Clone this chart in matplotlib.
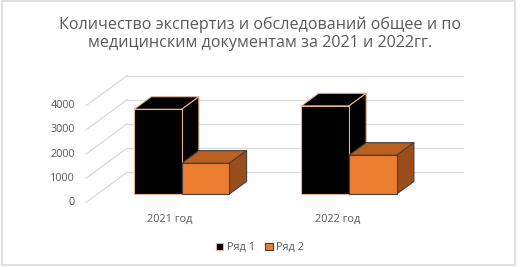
import matplotlib
matplotlib.use('Agg')
from matplotlib import pyplot as plt, patches

title = 'Количество экспертиз и обследований общее и по\nмедицинским документам за 2021 и 2022гг.'
categories = ['2021 год', '2022 год']
series_names = ['Ряд 1', 'Ряд 2']
row1 = [3500, 3640]
row2 = [1270, 1600]
yticks = [0, 1000, 2000, 3000, 4000]

front_colors = ['#000000', '#ED7D31']
top_colors = ['#000000', '#B9601F']
side_colors = ['#000000', '#9A4E1B']
edge_colors = ['#E6B496', '#404040']
grid_color = '#D9D9D9'
text_color = '#595959'

# oblique projection: one depth unit shifts x by ddx (category units) and y by ddy (value units)
ddx = 0.245
ddy = 1240
bar_depth = 0.42
floor_front = -0.28
floor_back = 0.72
bar_w = 0.285
x_left, x_right = -0.503, 1.503

fig = plt.figure(figsize=(5.2, 2.67), dpi=100)
ax = fig.add_axes([0, 0, 1, 1])
ax.set_xlim(-1.086, 2.022)
ax.set_ylim(-3017, 8017)
ax.axis('off')

# chart border
fig.patches.append(patches.Rectangle((0.003, 0.006), 0.988, 0.99, transform=fig.transFigure,
                                     facecolor='none', edgecolor='#D9D9D9', linewidth=1.2))


def shift(x, y, d):
    return x + d * ddx, y + d * ddy


# gridlines: back wall and left side wall
for t in yticks:
    fx, fy = shift(x_left, t, floor_front)
    bx, by = shift(x_left, t, floor_back)
    rx, ry = shift(x_right, t, floor_back)
    ax.plot([fx, bx], [fy, by], color=grid_color, linewidth=0.9, zorder=1)
    ax.plot([bx, rx], [by, ry], color=grid_color, linewidth=0.9, zorder=1)
    ax.text(fx - 0.066, fy, str(t), ha='right', va='center', fontsize=7.8,
            color=text_color, family='Open Sans')

for i, cat in enumerate(categories):
    cx, cy = shift(i, 0, floor_front)
    ax.text(cx, cy - 700, cat, ha='center', va='center', fontsize=7.8,
            color=text_color, family='Open Sans')

# bars, drawn back to front, left series first so the right one overlaps its side
series = [row1, row2]
for i in range(len(categories)):
    for s, vals in enumerate(series):
        v = vals[i]
        x0 = i - bar_w + s * bar_w
        x1 = x0 + bar_w
        ax.bar([x0], [v], width=bar_w, align='edge', color=front_colors[s],
               edgecolor=edge_colors[s], linewidth=0.8, zorder=3 + s)
        tl = (x0, v)
        tr = (x1, v)
        top = [tl, tr, shift(x1, v, bar_depth), shift(x0, v, bar_depth)]
        side = [(x1, 0), tr, shift(x1, v, bar_depth), shift(x1, 0, bar_depth)]
        ax.add_patch(patches.Polygon(top, closed=True, facecolor=top_colors[s],
                                     edgecolor=edge_colors[s], linewidth=0.8, zorder=2 + s))
        ax.add_patch(patches.Polygon(side, closed=True, facecolor=side_colors[s],
                                     edgecolor=edge_colors[s], linewidth=0.8, zorder=2 + s))

fig.text(0.5, 0.874, title, ha='center', va='center', fontsize=11.6,
         color=text_color, family='Open Sans', linespacing=1.22)

handles = [patches.Patch(facecolor=front_colors[s], edgecolor=edge_colors[s], linewidth=0.8)
           for s in range(2)]
leg = fig.legend(handles, series_names, loc='center', bbox_to_anchor=(0.5, 0.072), ncol=2,
                 frameon=False, fontsize=7.8, handlelength=0.7, handleheight=0.7,
                 handletextpad=0.3, columnspacing=1.0)
for t in leg.get_texts():
    t.set_color(text_color)
    t.set_family('Open Sans')

plt.savefig('out.png', dpi=100)
